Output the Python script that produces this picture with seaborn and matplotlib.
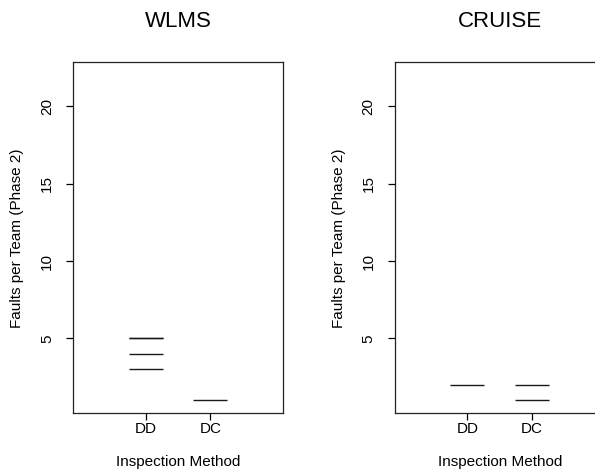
import matplotlib
matplotlib.use("Agg")
import matplotlib.pyplot as plt
import seaborn as sns
import pandas as pd

sns.set_theme(style="white")
plt.rcParams['font.family'] = ['Liberation Sans', 'DejaVu Sans']

methods = ["DD", "DC"]
wlms_dd = [5, 5, 4, 3]
wlms_dc = [1]
cruise_dd = [2]
cruise_dc = [2, 1]
panels = ["WLMS", "CRUISE"]
yticks = [5, 10, 15, 20]
ylim = (1, 22)

def frame(dd, dc):
    return pd.DataFrame({
        "method": ["DD"] * len(dd) + ["DC"] * len(dc),
        "faults": list(dd) + list(dc),
    })

data = {"WLMS": frame(wlms_dd, wlms_dc), "CRUISE": frame(cruise_dd, cruise_dc)}

W, H = 595, 476
fig = plt.figure(figsize=(W / 100, H / 100), dpi=100)
ax_w = 209.4 / W
ax_h = 351.0 / H
bottom = (H - 413.3) / H
lefts = [73.3 / W, 395.0 / W]

yr = ylim[1] - ylim[0]
ypad = yr * 0.04

for name, left in zip(panels, lefts):
    ax = fig.add_axes([left, bottom, ax_w, ax_h])
    sns.stripplot(data=data[name], x="method", y="faults", order=methods,
                  jitter=False, marker="_", size=24, linewidth=1.0,
                  color="black", ax=ax)
    for pc in ax.collections:
        pc.set_linewidth(1.0)
        pc.set_edgecolor("#1a1a1a")
        pc.set_facecolor("#1a1a1a")
    ax.set_xlim(-1 - 0.12, 2 + 0.12)
    ax.set_ylim(ylim[0] - ypad, ylim[1] + ypad)
    ax.set_yticks(yticks)
    ax.set_yticklabels([str(t) for t in yticks], rotation=90, va="center")
    for sp in ax.spines.values():
        sp.set_visible(True)
        sp.set_color("#222222")
        sp.set_linewidth(0.9)
    ax.tick_params(axis="both", direction="out", length=5, width=0.9,
                   color="black", labelsize=11, labelcolor="black")
    ax.tick_params(axis="y", pad=9, left=True)
    ax.tick_params(axis="x", pad=1, bottom=True)
    ax.set_title(name, fontsize=16, pad=25.5, color="black")
    ax.set_xlabel("Inspection Method", fontsize=11, color="black")
    ax.set_ylabel("Faults per Team (Phase 2)", fontsize=11, color="black")
    ax.xaxis.set_label_coords(0.5, -0.118)
    ax.yaxis.set_label_coords(-0.235, 0.5)
    ax.grid(False)

fig.savefig("out.png", dpi=100)
